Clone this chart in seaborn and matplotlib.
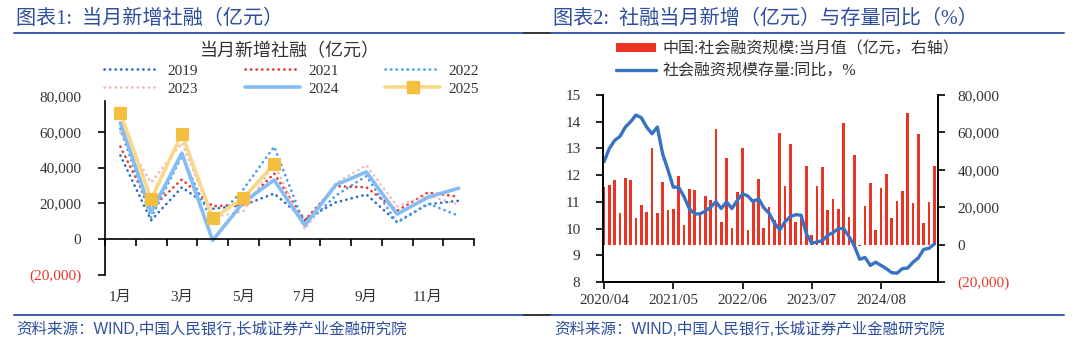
import matplotlib
matplotlib.use('Agg')
import matplotlib.pyplot as plt
import seaborn as sns
import numpy as np
import pandas as pd
from matplotlib.lines import Line2D
from matplotlib.patches import Patch

# ---------------- data ----------------
months = list(range(1, 13))
month_labels = ['1月', '2月', '3月', '4月', '5月', '6月', '7月', '8月', '9月', '10月', '11月', '12月']
tsf_2019 = [46800, 10500, 29000, 17000, 19000, 25500, 11000, 20500, 25000, 9600, 19500, 21500]
tsf_2021 = [51700, 17100, 33400, 18500, 19200, 36700, 10600, 29600, 29000, 15900, 26100, 23700]
tsf_2022 = [61700, 11900, 46500, 9100, 27900, 51700, 7600, 24300, 35300, 9100, 19900, 13100]
tsf_2023 = [59800, 31600, 53800, 12200, 15600, 42200, 5400, 31200, 41300, 18400, 24500, 19300]
tsf_2024 = [65000, 15000, 48100, -700, 20600, 33100, 7700, 30300, 37600, 14000, 23400, 28500]
tsf_2025 = [70600, 22300, 58900, 11600, 22900, 42000]
left_yticks = [-20000, 0, 20000, 40000, 60000, 80000]

month_dates = pd.date_range('2020-04-01', periods=63, freq='MS')
tsf_monthly = [30900, 31900, 34300, 16900, 35800, 34800, 14200, 21300, 17200,
               51700, 17100, 33400, 18500, 19200, 36700, 10600, 29600, 29000, 15900, 26100, 23700,
               61700, 11900, 46500, 9100, 27900, 51700, 7600, 24300, 35300, 9100, 19900, 13100,
               59800, 31600, 53800, 12200, 15600, 42200, 5400, 31200, 41300, 18400, 24500, 19300,
               65000, 15000, 48100, -700, 20600, 33100, 7700, 30300, 37600, 14000, 23400, 28500,
               70600, 22300, 58900, 11600, 22900, 42000]
stock_yoy = [12.5, 13.0, 13.3, 13.45, 13.8, 14.0, 14.25, 14.15, 13.8, 13.55, 13.8, 12.8,
             12.2, 11.55, 11.55, 11.2, 10.75, 10.55, 10.55, 10.65, 10.8, 11.0, 10.75, 11.0,
             10.75, 11.05, 11.3, 11.22, 11.0, 11.12, 10.78, 10.57, 10.2, 9.95, 10.26, 10.45,
             10.52, 10.5, 9.8, 9.45, 9.5, 9.55, 9.75, 9.85, 10.0, 10.0, 9.7, 9.35,
             8.85, 8.92, 8.62, 8.74, 8.62, 8.5, 8.35, 8.33, 8.5, 8.52, 8.74, 8.9,
             9.22, 9.26, 9.42]
right_xtick_idx = [0, 13, 26, 39, 52]
pct_ticks = [8, 9, 10, 11, 12, 13, 14, 15]
amt_ticks = [-20000, 0, 20000, 40000, 60000, 80000]

# ---------------- style ----------------
sns.set_style('ticks')
plt.rcParams['font.family'] = ['Liberation Serif', 'Noto Sans CJK SC', 'DejaVu Sans']
plt.rcParams['axes.unicode_minus'] = False

W, H = 1080, 346
fig = plt.figure(figsize=(W / 100, H / 100), dpi=100)
fig.patch.set_facecolor('white')

TXT = '#333333'
NEG = '#E8382E'
BLUE_T = '#2E4E9E'


def fmt_amt(v):
    if v < 0:
        return '({:,.0f})'.format(-v)
    if v == 0:
        return '0'
    return '{:,.0f}'.format(v)


# ---------------- left chart ----------------
ax1 = fig.add_axes([105 / W, 1 - 275 / H, (474 - 105) / W, (275 - 96) / H])
dot = (0, (0.1, 2.0))
series = [
    ('2019', tsf_2019, dict(color='#2F6CC2', lw=1.9, linestyle=dot, dash_capstyle='round')),
    ('2021', tsf_2021, dict(color='#E8362D', lw=1.9, linestyle=dot, dash_capstyle='round')),
    ('2022', tsf_2022, dict(color='#4A9BF5', lw=1.9, linestyle=dot, dash_capstyle='round')),
    ('2023', tsf_2023, dict(color='#F5B7B7', lw=1.9, linestyle=dot, dash_capstyle='round')),
    ('2024', tsf_2024, dict(color='#84BCF4', lw=2.6, linestyle='-')),
]
handles = {}
for name, vals, kw in series:
    sns.lineplot(x=months[:len(vals)], y=vals, ax=ax1, **kw)
    handles[name] = Line2D([0], [0], **kw)
kw25 = dict(color='#FAD889', lw=2.6, linestyle='-', marker='s', markersize=8.5,
            markerfacecolor='#F4BE3E', markeredgecolor='#F4BE3E')
sns.lineplot(x=months[:len(tsf_2025)], y=tsf_2025, ax=ax1, **kw25)
handles['2025'] = Line2D([0], [0], **kw25)

ax1.set_xlim(0.5, 12.5)
ax1.set_ylim(-20000, 80000)
ax1.set_xlabel('')
ax1.set_ylabel('')
for s in ['top', 'right']:
    ax1.spines[s].set_visible(False)
ax1.spines['bottom'].set_position(('data', 0))
for s in ['left', 'bottom']:
    ax1.spines[s].set_color('black')
    ax1.spines[s].set_linewidth(1.2)
ax1.spines['left'].set_bounds(-20000, 77000)

ax1.set_yticks(left_yticks, [fmt_amt(v) for v in left_yticks])
ax1.tick_params(axis='y', direction='out', length=5, width=1.2, color='black',
                labelsize=11, labelcolor=TXT, pad=12)
ax1.get_yticklabels()[0].set_color(NEG)
ax1.yaxis.get_major_ticks()[-1].tick1line.set_visible(False)

ax1.set_xticks([1, 3, 5, 7, 9, 11], [month_labels[i - 1] for i in [1, 3, 5, 7, 9, 11]])
ax1.set_xticks(np.arange(0.5, 13, 1), minor=True)
ax1.tick_params(axis='x', which='major', length=0, labelsize=11, labelcolor=TXT, pad=37)
ax1.tick_params(axis='x', which='minor', direction='out', length=5, width=1.2, color='black')

order = ['2019', '2023', '2021', '2024', '2022', '2025']
fig.legend([handles[k] for k in order], order, loc='upper left',
           bbox_to_anchor=(104 / W, 1 - 64 / H), ncol=3, frameon=False, fontsize=11,
           handlelength=3.6, handletextpad=0.55, columnspacing=3.05, labelspacing=0.28,
           borderpad=0, borderaxespad=0, labelcolor=TXT)
fig.text(290 / W, 1 - 52 / H, '当月新增社融（亿元）', ha='center', va='center',
         fontsize=13, color=TXT)

# ---------------- right chart ----------------
ax2 = fig.add_axes([602.7 / W, 1 - 282 / H, (938 - 602.7) / W, (282 - 95) / H])
ax2b = ax2.twinx()
idx = list(range(len(tsf_monthly)))
sns.barplot(x=idx, y=tsf_monthly, ax=ax2, color='#EA3323', saturation=1, width=0.5,
            linewidth=0)
sns.lineplot(x=idx, y=stock_yoy, ax=ax2b, color='#3872C2', lw=2.4)

ax2.set_ylim(-20000, 80000)
ax2.set_xlim(-0.25, 62.7)
ax2b.set_ylim(8, 15)
ax2b.set_xlim(-0.25, 62.7)

# bars' axis on the right, line's axis on the left
ax2.yaxis.set_ticks_position('right')
ax2.yaxis.set_label_position('right')
ax2.set_yticks(amt_ticks, [fmt_amt(v) for v in amt_ticks])
ax2.tick_params(axis='y', direction='out', length=5, width=1.2, color='black',
                labelsize=11, labelcolor=TXT, pad=9, right=True, left=False,
                labelright=True, labelleft=False)
ax2.get_yticklabels()[0].set_color(NEG)
ax2.set_xticks(right_xtick_idx, [month_dates[i].strftime('%Y/%m') for i in right_xtick_idx])
ax2.tick_params(axis='x', direction='out', length=5, width=1.2, color='black',
                labelsize=11, labelcolor=TXT, pad=4)
ax2.set_xlabel('')
ax2.set_ylabel('')

ax2b.yaxis.set_ticks_position('left')
ax2b.yaxis.set_label_position('left')
ax2b.set_yticks(pct_ticks, [str(v) for v in pct_ticks])
ax2b.tick_params(axis='y', direction='out', length=5, width=1.2, color='black',
                 labelsize=11, labelcolor=TXT, pad=11, left=True, right=False,
                 labelleft=True, labelright=False)
ax2b.set_ylabel('')
for a in (ax2, ax2b):
    a.spines['top'].set_visible(False)
    for s in ['left', 'right', 'bottom']:
        a.spines[s].set_color('black')
        a.spines[s].set_linewidth(1.2)
for p in ax2.patches:
    p.set_antialiased(False)

rh = [Patch(facecolor='#EA3323', edgecolor='none'),
      Line2D([0], [0], color='#3872C2', lw=2.4)]
fig.legend(rh, ['中国:社会融资规模:当月值（亿元，右轴）', '社会融资规模存量:同比，%'],
           loc='upper left', bbox_to_anchor=(616 / W, 1 - 41 / H), frameon=False,
           fontsize=11.5, handlelength=2.5, handleheight=0.5, handletextpad=0.4,
           labelspacing=0.36, borderpad=0, borderaxespad=0, labelcolor=TXT)

# ---------------- titles, rules, source ----------------
fig.text(16 / W, 1 - 19 / H, '图表1:  当月新增社融（亿元）', ha='left', va='center',
         fontsize=14.5, color=BLUE_T)
fig.text(553 / W, 1 - 19 / H, '图表2:  社融当月新增（亿元）与存量同比（%）', ha='left',
         va='center', fontsize=14.5, color=BLUE_T)
for yy in (33, 315):
    fig.add_artist(Line2D([14 / W, 524 / W], [1 - yy / H] * 2, color='#3A5BA8', lw=1.4))
    fig.add_artist(Line2D([524 / W, 551 / W], [1 - yy / H] * 2, color='#333333', lw=1.4))
    fig.add_artist(Line2D([551 / W, 1064 / W], [1 - yy / H] * 2, color='#3A5BA8', lw=1.4))
src = '资料来源：WIND,中国人民银行,长城证券产业金融研究院'
fig.text(16 / W, 1 - 329 / H, src, ha='left', va='center', fontsize=11.2, color=BLUE_T,
         family=['Liberation Sans', 'Noto Sans CJK SC'])
fig.text(554 / W, 1 - 329 / H, src, ha='left', va='center', fontsize=11.2, color=BLUE_T,
         family=['Liberation Sans', 'Noto Sans CJK SC'])

fig.savefig('out.png', dpi=100, facecolor='white')
